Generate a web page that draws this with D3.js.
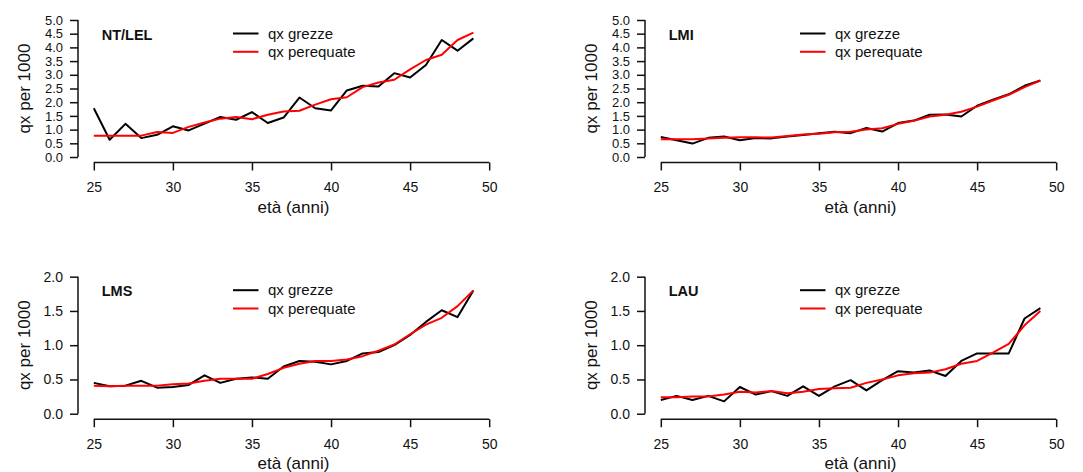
<!DOCTYPE html>
<html>
<head>
<meta charset="utf-8">
<script src="https://cdn.jsdelivr.net/npm/d3@7"></script>
<style>
  body { margin: 0; background: #fff; }
  svg { display: block; font-family: Arial, "Liberation Sans", sans-serif; }
</style>
</head>
<body>
<svg id="chart"></svg>
<script>
// ── Data ──────────────────────────────────────────────────────────────────────
const ages = [25, 26, 27, 28, 29, 30, 31, 32, 33, 34, 35, 36, 37, 38, 39, 40, 41, 42, 43, 44, 45, 46, 47, 48, 49];
const xTicks = [25, 30, 35, 40, 45, 50];
const yTicksTop = [0, 0.5, 1, 1.5, 2, 2.5, 3, 3.5, 4, 4.5, 5];
const yTicksBottom = [0, 0.5, 1, 1.5, 2];
const panelNames = ['NT/LEL', 'LMI', 'LMS', 'LAU'];
const seriesNames = ['qx grezze', 'qx perequate'];

const ntlelGrezze = [1.78, 0.63, 1.21, 0.69, 0.81, 1.12, 0.97, 1.22, 1.46, 1.36, 1.64, 1.24, 1.44, 2.17, 1.78, 1.70, 2.43, 2.60, 2.57, 3.06, 2.90, 3.36, 4.27, 3.88, 4.33];
const ntlelPerequate = [0.78, 0.78, 0.78, 0.78, 0.91, 0.88, 1.10, 1.26, 1.40, 1.46, 1.38, 1.54, 1.66, 1.69, 1.91, 2.11, 2.18, 2.55, 2.72, 2.82, 3.20, 3.54, 3.73, 4.27, 4.54];

const lmiGrezze = [0.73, 0.61, 0.49, 0.70, 0.75, 0.61, 0.69, 0.68, 0.75, 0.80, 0.87, 0.92, 0.87, 1.06, 0.93, 1.24, 1.33, 1.54, 1.55, 1.48, 1.87, 2.09, 2.29, 2.60, 2.79];
const lmiPerequate = [0.65, 0.65, 0.65, 0.68, 0.70, 0.72, 0.72, 0.71, 0.77, 0.82, 0.85, 0.90, 0.92, 1.00, 1.05, 1.21, 1.32, 1.48, 1.54, 1.65, 1.84, 2.06, 2.27, 2.55, 2.79];

const lmsGrezze = [0.45, 0.40, 0.41, 0.48, 0.38, 0.39, 0.42, 0.56, 0.45, 0.51, 0.53, 0.51, 0.69, 0.77, 0.76, 0.72, 0.77, 0.88, 0.90, 1.00, 1.15, 1.34, 1.51, 1.41, 1.80];
const lmsPerequate = [0.41, 0.40, 0.41, 0.41, 0.41, 0.43, 0.44, 0.48, 0.51, 0.51, 0.51, 0.58, 0.67, 0.73, 0.77, 0.77, 0.79, 0.84, 0.92, 1.01, 1.16, 1.30, 1.40, 1.57, 1.80];

const lauGrezze = [0.20, 0.26, 0.20, 0.26, 0.18, 0.39, 0.28, 0.33, 0.26, 0.40, 0.26, 0.40, 0.49, 0.34, 0.49, 0.62, 0.60, 0.63, 0.55, 0.77, 0.88, 0.88, 0.88, 1.39, 1.54];
const lauPerequate = [0.24, 0.24, 0.25, 0.25, 0.28, 0.32, 0.31, 0.33, 0.30, 0.32, 0.36, 0.37, 0.38, 0.45, 0.50, 0.56, 0.59, 0.60, 0.65, 0.73, 0.77, 0.89, 1.02, 1.29, 1.50];

// ── Layout ────────────────────────────────────────────────────────────────────
const W = 1083, H = 472;
const svg = d3.select('#chart').attr('width', W).attr('height', H);

const PW = 427, PH = 148;      // plot region (R "usr" box)
const panels = [
  { name: panelNames[0], grezze: ntlelGrezze, pereq: ntlelPerequate, x0: 78,  y0: 14.5,  yMax: 5, yTicks: yTicksTop },
  { name: panelNames[1], grezze: lmiGrezze,   pereq: lmiPerequate,   x0: 645, y0: 14.5,  yMax: 5, yTicks: yTicksTop },
  { name: panelNames[2], grezze: lmsGrezze,   pereq: lmsPerequate,   x0: 78,  y0: 271.2, yMax: 2, yTicks: yTicksBottom },
  { name: panelNames[3], grezze: lauGrezze,   pereq: lauPerequate,   x0: 645, y0: 271.2, yMax: 2, yTicks: yTicksBottom }
];

const TICK = 8;
const INK = '#111';
const FONT = 'Arial, "Liberation Sans", sans-serif';

panels.forEach(p => {
  // R pads the range by 4% on each side
  const x = d3.scaleLinear().domain([24, 51]).range([p.x0, p.x0 + PW]);
  const pad = p.yMax * 0.04;
  const y = d3.scaleLinear().domain([-pad, p.yMax + pad]).range([p.y0 + PH, p.y0]);
  const g = svg.append('g');

  // ── x axis ──
  const xa = g.append('g')
    .attr('transform', `translate(0,${p.y0 + PH})`)
    .call(d3.axisBottom(x).tickValues(xTicks).tickSize(TICK).tickSizeOuter(0).tickPadding(12));
  xa.select('.domain').remove();
  xa.append('line')
    .attr('x1', x(xTicks[0])).attr('x2', x(xTicks[xTicks.length - 1]))
    .attr('stroke', INK).attr('stroke-width', 1.5);
  xa.selectAll('.tick line').attr('stroke', INK).attr('stroke-width', 1.5);
  xa.selectAll('.tick text').attr('fill', INK).attr('font-size', 14).attr('font-family', FONT);

  // ── y axis ──
  const ya = g.append('g')
    .attr('transform', `translate(${p.x0},0)`)
    .call(d3.axisLeft(y).tickValues(p.yTicks).tickFormat(d3.format('.1f')).tickSize(TICK).tickSizeOuter(0).tickPadding(7));
  ya.select('.domain').remove();
  ya.append('line')
    .attr('y1', y(p.yTicks[0])).attr('y2', y(p.yTicks[p.yTicks.length - 1]))
    .attr('stroke', INK).attr('stroke-width', 1.5);
  ya.selectAll('.tick line').attr('stroke', INK).attr('stroke-width', 1.5);
  ya.selectAll('.tick text').attr('fill', INK).attr('font-size', p.yMax > 2 ? 13 : 14).attr('font-family', FONT);

  // ── axis titles ──
  g.append('text')
    .attr('x', p.x0 + PW / 2 + 2)
    .attr('y', p.y0 + PH + 50)
    .attr('text-anchor', 'middle')
    .attr('font-size', 17).attr('fill', INK)
    .text('età (anni)');
  g.append('text')
    .attr('transform', `translate(${p.x0 - 54},${p.y0 + PH / 2}) rotate(-90)`)
    .attr('text-anchor', 'middle')
    .attr('dy', '0.35em')
    .attr('font-size', 17).attr('fill', INK)
    .text('qx per 1000');

  // ── lines ──
  const line = d3.line().x((d, i) => x(ages[i])).y(d => y(d));
  g.append('path').datum(p.grezze)
    .attr('d', line).attr('fill', 'none')
    .attr('stroke', '#000').attr('stroke-width', 2).attr('stroke-linejoin', 'round');
  g.append('path').datum(p.pereq)
    .attr('d', line).attr('fill', 'none')
    .attr('stroke', '#ff0000').attr('stroke-width', 2).attr('stroke-linejoin', 'round');

  // ── panel title ──
  g.append('text')
    .attr('x', x(25.5)).attr('y', p.y0 + 20)
    .attr('dy', '0.35em')
    .attr('font-size', 14.5).attr('font-weight', 'bold').attr('fill', INK)
    .text(p.name);

  // ── legend ──
  const lx = x(33.8);
  [['#000', seriesNames[0]], ['#ff0000', seriesNames[1]]].forEach(([col, lab], i) => {
    const ly = p.y0 + 19 + i * 18.3;
    g.append('line')
      .attr('x1', lx).attr('x2', lx + 25.5)
      .attr('y1', ly).attr('y2', ly)
      .attr('stroke', col).attr('stroke-width', 2);
    g.append('text')
      .attr('x', lx + 35).attr('y', ly)
      .attr('dy', '0.35em')
      .attr('font-size', 15).attr('fill', INK)
      .text(lab);
  });
});
</script>
</body>
</html>
